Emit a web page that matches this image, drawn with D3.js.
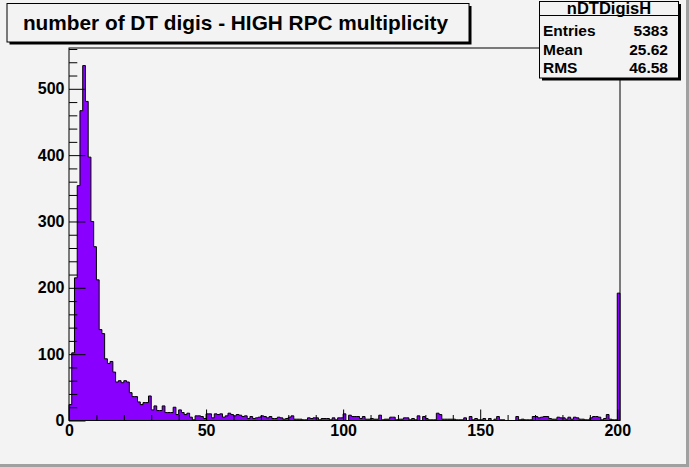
<!DOCTYPE html>
<html>
<head>
<meta charset="utf-8">
<script src="https://cdn.jsdelivr.net/npm/d3@7"></script>
<style>
  body { margin: 0; background: #f3f3f3; }
  svg text { font-family: "Liberation Sans", Arial, sans-serif; font-weight: bold; fill: #000; }
</style>
</head>
<body>
<svg id="chart"></svg>
<script>
const title = "number of DT digis - HIGH RPC multiplicity"

// bin contents, one bin per unit from 0 to 201
const counts = [
  24, 102, 215, 354, 467, 535, 481, 397, 300, 262, 212, 137, 131, 93, 86, 89, 73, 58, 60, 57,
  60, 58, 42, 36, 36, 28, 24, 27, 27, 37, 16, 22, 15, 15, 22, 12, 12, 12, 20, 9,
  16, 12, 9, 11, 5, 1, 7, 7, 6, 3, 10, 10, 4, 10, 9, 10, 5, 7, 11, 9,
  7, 9, 8, 6, 7, 3, 6, 3, 4, 5, 7, 6, 4, 6, 3, 3, 5, 4, 2, 3,
  5, 7, 2, 2, 2, 1, 1, 4, 3, 4, 4, 1, 3, 3, 3, 1, 4, 1, 4, 4,
  10, 0, 8, 6, 6, 6, 3, 6, 2, 2, 3, 2, 2, 8, 1, 2, 2, 5, 5, 1,
  2, 2, 4, 4, 1, 3, 1, 7, 0, 6, 3, 1, 1, 1, 11, 9, 2, 2, 2, 2,
  2, 1, 1, 1, 4, 0, 6, 1, 3, 1, 1, 3, 0, 3, 0, 2, 6, 1, 1, 0,
  0, 0, 0, 6, 1, 2, 1, 1, 1, 6, 6, 4, 5, 6, 6, 3, 2, 2, 5, 4,
  4, 2, 5, 2, 5, 4, 2, 2, 1, 1, 4, 6, 6, 5, 1, 3, 9, 2, 1, 1,
  192
]
const xMajor = [0, 50, 100, 150, 200]
const yMajor = [0, 100, 200, 300, 400, 500]
const statsName = "nDTDigisH"
const statsLabels = ["Entries", "Mean", "RMS"]
const statsValues = ["5383", "25.62", "46.58"]

const width = 689, height = 467
const frame = { left: 69, right: 620, top: 48, bottom: 420.5 }
const bg = "#f3f3f3"

const svg = d3.select("#chart")
    .attr("width", width)
    .attr("height", height)

svg.append("rect")
    .attr("width", width)
    .attr("height", height)
    .attr("fill", bg)

// canvas bevel on the right and bottom
svg.append("path")
    .attr("d", `M${width - 1.5},0V${height - 1.5}H0`)
    .attr("fill", "none")
    .attr("stroke", "#a0a0a0")
    .attr("stroke-width", 3)

const x = d3.scaleLinear().domain([0, counts.length]).range([frame.left, frame.right])
const y = d3.scaleLinear().domain([0, 561.5]).range([frame.bottom, frame.top])

const bins = counts.map((v, i) => ({ x: i, v }))
bins.push({ x: counts.length, v: counts[counts.length - 1] })

svg.append("path")
    .datum(bins)
    .attr("fill", "#8a00ff")
    .attr("stroke", "#000")
    .attr("stroke-width", 1)
    .attr("d", d3.area()
        .curve(d3.curveStepAfter)
        .x(d => x(d.x))
        .y0(y(0))
        .y1(d => y(d.v)))

// frame
svg.append("rect")
    .attr("x", frame.left)
    .attr("y", frame.top)
    .attr("width", frame.right - frame.left)
    .attr("height", frame.bottom - frame.top)
    .attr("fill", "none")
    .attr("stroke", "#000")

// x axis: ticks drawn inside the frame
const xMinor = d3.range(0, 201, 10).filter(v => !xMajor.includes(v))
svg.append("g")
    .attr("transform", `translate(0,${frame.bottom})`)
    .call(d3.axisBottom(x).tickValues(xMinor).tickSize(-5.5).tickFormat(""))
    .call(g => g.select(".domain").remove())
svg.append("g")
    .attr("transform", `translate(0,${frame.bottom})`)
    .call(d3.axisBottom(x).tickValues(xMajor).tickSize(-11).tickPadding(4.5).tickFormat(d3.format("d")))
    .call(g => g.select(".domain").remove())
    .call(g => g.selectAll("text").style("font-size", "16px"))

const yMinor = d3.range(0, 561, 20).filter(v => !yMajor.includes(v))
svg.append("g")
    .attr("transform", `translate(${frame.left},0)`)
    .call(d3.axisLeft(y).tickValues(yMinor).tickSize(-8.3).tickFormat(""))
    .call(g => g.select(".domain").remove())
svg.append("g")
    .attr("transform", `translate(${frame.left},0)`)
    .call(d3.axisLeft(y).tickValues(yMajor).tickSize(-16.5).tickPadding(4.5).tickFormat(d3.format("d")))
    .call(g => g.select(".domain").remove())
    .call(g => g.selectAll("text").style("font-size", "16px"))

svg.selectAll(".tick line").attr("stroke", "#000")

// boxes with drop shadow
const pave = (x0, y0, w, h) => {
    svg.append("rect")
        .attr("x", x0 + 2.5).attr("y", y0 + 2.5)
        .attr("width", w).attr("height", h)
        .attr("fill", "#000")
    svg.append("rect")
        .attr("x", x0).attr("y", y0)
        .attr("width", w).attr("height", h)
        .attr("fill", bg)
        .attr("stroke", "#000")
}

pave(7, 3.5, 462, 38.5)
svg.append("text")
    .attr("x", 235.5)
    .attr("y", 30)
    .attr("text-anchor", "middle")
    .style("font-size", "20.8px")
    .text(title)

pave(539.5, 1.5, 139, 76.5)
svg.append("line")
    .attr("x1", 539.5).attr("x2", 678.5)
    .attr("y1", 15.5).attr("y2", 15.5)
    .attr("stroke", "#000")
svg.append("text")
    .attr("x", 609)
    .attr("y", 13.8)
    .attr("text-anchor", "middle")
    .style("font-size", "16.5px")
    .text(statsName)

const rows = svg.append("g")
    .selectAll("g")
    .data(statsLabels)
    .join("g")
    .attr("transform", (d, i) => `translate(0,${36 + i * 18.5})`)
rows.append("text")
    .attr("x", 543)
    .style("font-size", "15.5px")
    .text(d => d)
rows.append("text")
    .attr("x", 668)
    .attr("text-anchor", "end")
    .style("font-size", "15.5px")
    .text((d, i) => statsValues[i])
</script>
</body>
</html>
